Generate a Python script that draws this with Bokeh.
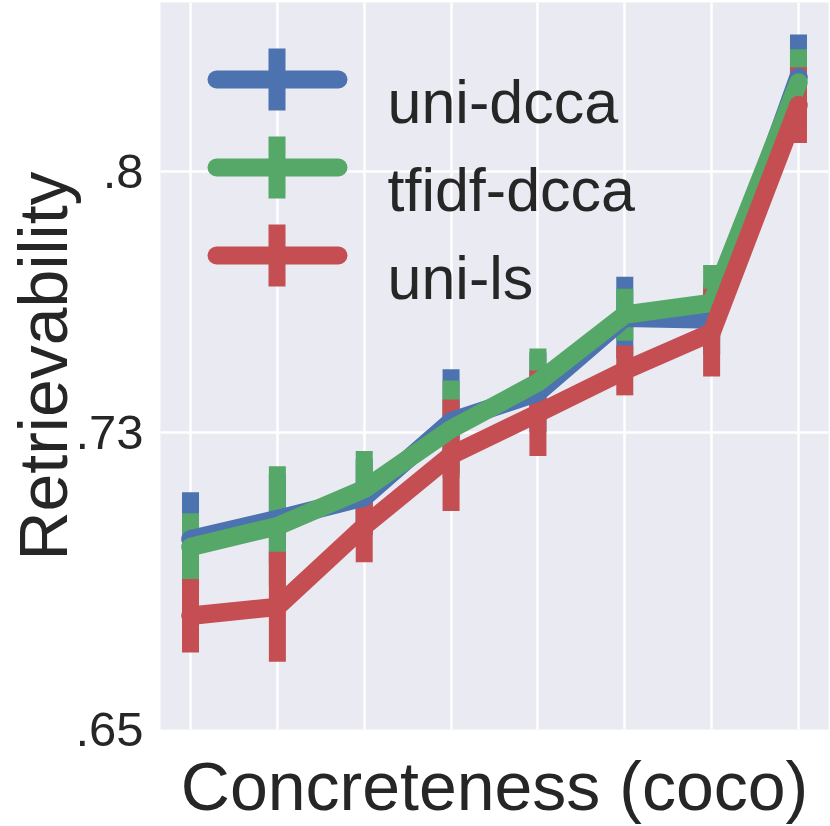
from bokeh.plotting import figure
from bokeh.models import Range1d, BoxAnnotation, Label, FixedTicker
from bokeh.embed import file_html
from bokeh.resources import INLINE

# ---- data ----
bins = [0, 1, 2, 3, 4, 5, 6, 7]
series_names = ["uni-dcca", "tfidf-dcca", "uni-ls"]
uni_dcca = [0.7012, 0.7066, 0.7125, 0.7329, 0.7407, 0.7608, 0.7603, 0.8255]
uni_dcca_err = [0.0126, 0.0121, 0.0102, 0.0140, 0.0107, 0.0110, 0.0094, 0.0115]
tfidf_dcca = [0.6991, 0.7047, 0.7147, 0.7308, 0.7434, 0.7616, 0.7648, 0.8241]
tfidf_dcca_err = [0.0091, 0.0161, 0.0102, 0.0131, 0.0091, 0.0070, 0.0102, 0.0089]
uni_ls = [0.6806, 0.6830, 0.7047, 0.7238, 0.7351, 0.7466, 0.7568, 0.8180]
uni_ls_err = [0.0099, 0.0148, 0.0097, 0.0150, 0.0115, 0.0067, 0.0118, 0.0102]
y_ticks = [0.65, 0.73, 0.8]
y_tick_labels = [".65", ".73", ".8"]

colors = ["#4C72B0", "#55A868", "#C44E52"]
FONT = "Liberation Sans"
TXT = "#262626"

p = figure(width=830, height=826, output_backend="svg", toolbar_location=None,
           x_range=Range1d(-0.3456, 7.3456), y_range=Range1d(0.65, 0.8456),
           min_border_left=160, min_border_right=2, min_border_top=2,
           min_border_bottom=95)
p.background_fill_color = "#EAEAF2"
p.border_fill_color = "white"
p.outline_line_color = None

series = [(uni_dcca, uni_dcca_err), (tfidf_dcca, tfidf_dcca_err), (uni_ls, uni_ls_err)]

# error bars first (below lines)
for (vals, errs), c in zip(series, colors):
    lo = [v - e for v, e in zip(vals, errs)]
    hi = [v + e for v, e in zip(vals, errs)]
    p.segment(x0=bins, y0=lo, x1=bins, y1=hi, line_color=c, line_width=17,
              line_cap="butt")
for (vals, errs), c in zip(series, colors):
    p.line(bins, vals, line_color=c, line_width=18.5, line_cap="round",
           line_join="round")

# axes
p.xaxis.ticker = FixedTicker(ticks=bins)
p.xaxis.major_label_text_font_size = "1px"
p.xaxis.major_label_text_alpha = 0
p.xaxis.major_label_standoff = 0
p.xaxis.axis_label = "Concreteness (coco)"
p.xaxis.axis_label_standoff = 18

p.yaxis.ticker = FixedTicker(ticks=y_ticks)
p.yaxis.major_label_overrides = {t: l for t, l in zip(y_ticks, y_tick_labels)}
p.yaxis.major_label_standoff = 17
p.yaxis.axis_label = "Retrievability"
p.yaxis.axis_label_standoff = -9

for ax in (p.xaxis[0], p.yaxis[0]):
    ax.axis_line_color = None
    ax.major_tick_line_color = None
    ax.minor_tick_line_color = None
    ax.major_tick_out = 0
    ax.major_tick_in = 0
    ax.major_label_text_font = FONT
    ax.axis_label_text_font = FONT
    ax.axis_label_text_font_size = "68px"
    ax.axis_label_text_font_style = "normal"
    ax.axis_label_text_color = TXT
    ax.major_label_text_color = TXT
p.yaxis.major_label_text_font_size = "49px"

p.xgrid.ticker = FixedTicker(ticks=bins)
p.ygrid.ticker = FixedTicker(ticks=y_ticks)
for g in (p.xgrid[0], p.ygrid[0]):
    g.grid_line_color = "white"
    g.grid_line_width = 2.5

# legend (screen units relative to frame)
centers = [650, 562, 474]
for name, c, cy in zip(series_names, colors, centers):
    p.add_layout(BoxAnnotation(left=47, right=187, bottom=cy - 9, top=cy + 9,
                               left_units="screen", right_units="screen",
                               top_units="screen", bottom_units="screen",
                               fill_color=c, fill_alpha=1, line_color=None,
                               border_radius=9))
    p.add_layout(BoxAnnotation(left=108, right=125, bottom=cy - 31, top=cy + 31,
                               left_units="screen", right_units="screen",
                               top_units="screen", bottom_units="screen",
                               fill_color=c, fill_alpha=1, line_color=None))
    p.add_layout(Label(x=227, y=cy - 22.5, x_units="screen", y_units="screen",
                       text=name, text_font=FONT, text_font_size="61px",
                       text_color=TXT, text_baseline="alphabetic"))

open("out.html", "w").write(file_html(p, INLINE))
